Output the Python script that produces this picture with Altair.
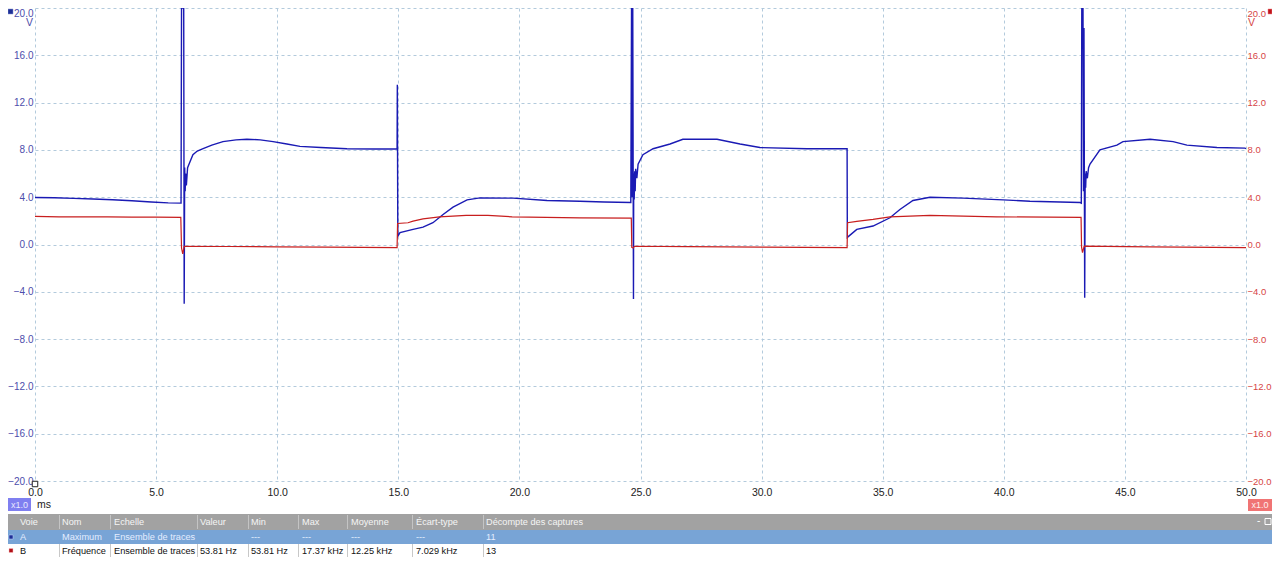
import altair as alt
import pandas as pd

# ---------------- data ----------------
# Channel A (blue), time in ms, volts
a_t = [0.0, 0.8, 1.6, 2.4, 3.2, 4.0, 4.8, 5.5, 6.03,
       6.05, 6.14, 6.16, 6.18, 6.2, 6.22, 6.25, 6.3, 6.4, 6.52, 6.7, 6.94, 7.3, 7.76, 8.3, 8.75, 9.3, 9.83, 10.4, 10.94, 11.8, 12.88, 14.0, 14.95,
       14.96, 14.98, 15.07, 15.61, 16.02, 16.43, 16.85, 17.26, 17.84, 18.37, 19.74, 21.14, 22.5, 23.5, 24.6,
       24.63, 24.66, 24.68, 24.71, 24.72, 24.74, 24.76, 24.78, 24.8, 24.85, 24.9, 25.1, 25.52, 26.22, 26.75, 28.16, 29.11, 29.93, 31.87, 33.53,
       33.54, 33.93, 34.6, 35.3, 35.71, 36.25, 36.95, 38.32, 39.97, 41.08, 43.15,
       43.2, 43.22, 43.27, 43.29, 43.31, 43.34, 43.36, 43.38, 43.4, 43.45, 43.5, 43.56, 43.97, 44.67, 44.92, 46.04, 46.99, 47.56, 48.8, 49.96, 50.0]
a_v = [3.98, 3.95, 3.9, 3.85, 3.78, 3.7, 3.6, 3.52, 3.5,
       20.0, 20.0, -5.0, 6.5, 4.5, 6.0, 5.0, 6.5, 7.0, 7.6, 7.9, 8.1, 8.4, 8.7, 8.85, 8.9, 8.85, 8.7, 8.5, 8.3, 8.2, 8.1, 8.08, 8.08,
       13.5, 0.7, 1.0, 1.28, 1.47, 1.84, 2.54, 3.16, 3.77, 3.94, 3.92, 3.72, 3.66, 3.6, 3.55,
       20.0, 4.0, 20.0, -4.6, 6.0, 3.8, 6.2, 4.5, 6.4, 5.6, 6.8, 7.6, 8.1, 8.5, 8.9, 8.9, 8.5, 8.2, 8.1, 8.1,
       0.6, 1.28, 1.56, 2.26, 2.96, 3.72, 4.0, 3.92, 3.77, 3.66, 3.55,
       3.5, 20.0, 20.0, 4.5, 18.3, -4.5, 6.0, 4.8, 6.2, 5.6, 6.5, 6.8, 8.0, 8.4, 8.7, 8.9, 8.7, 8.4, 8.2, 8.15, 8.1]

# Channel B (red)
b_t = [0.0, 1.0, 2.0, 3.0, 4.0, 5.0, 6.02, 6.05, 6.1, 6.16, 8.0, 10.0, 12.0, 14.95,
       14.97, 15.4, 15.61, 16.02, 16.7, 17.8, 18.7, 19.7, 22.5, 24.62,
       24.64, 24.7, 24.75, 27.0, 30.0, 33.53,
       33.55, 33.93, 34.6, 35.3, 36.95, 39.7, 43.19,
       43.21, 43.25, 43.32, 46.0, 50.0]
b_v = [2.38, 2.34, 2.34, 2.33, 2.32, 2.32, 2.3, -0.3, -0.8, -0.15, -0.17, -0.2, -0.23, -0.27,
       1.78, 1.84, 1.98, 2.17, 2.34, 2.46, 2.46, 2.34, 2.26, 2.23,
       -0.25, -0.3, -0.15, -0.18, -0.22, -0.27,
       1.84, 1.95, 2.12, 2.34, 2.46, 2.34, 2.29,
       -0.2, -0.69, -0.13, -0.2, -0.27]

trig_t = [0.0]
trig_v = [-20.0]

x_ticks = [0, 5, 10, 15, 20, 25, 30, 35, 40, 45, 50]
y_ticks = [-20, -16, -12, -8, -4, 0, 4, 8, 12, 16, 20]
x_unit = "ms"
y_unit = "V"
zoom_label = "x1.0"

table_header = ["Voie", "Nom", "Echelle", "Valeur", "Min", "Max", "Moyenne", "Écart-type", "Décompte des captures"]
row_a = ["A", "Maximum", "Ensemble de traces", "", "---", "---", "---", "---", "11"]
row_b = ["B", "Fréquence", "Ensemble de traces", "53.81 Hz", "53.81 Hz", "17.37 kHz", "12.25 kHz", "7.029 kHz", "13"]

# ---------------- styling / layout ----------------
FONT = "Liberation Sans"
GRID = "#b3cadc"
BLUE = "#1a1ab4"
RED = "#c81e1e"
LBLUE = "#4d4dab"
LRED = "#d64545"
W, H = 1211, 473
OX, OY = 35, 8   # page position of plot origin


def px(x):
    return x - OX


def py(y):
    return y - OY


cond_base = {"condition": {"test": "datum.value >= 20", "value": "top"}, "value": "middle"}

x_axis = alt.Axis(values=x_ticks, format=".1f", grid=True, gridDash=[3, 3], gridColor=GRID,
                  ticks=False, domain=False, labelColor="#222222", labelFont=FONT,
                  labelFontSize=10.5, labelPadding=6, labelFlush=False, title=None)
x_scale = alt.Scale(domain=[0, 50], nice=False, zero=False)
y_scale = alt.Scale(domain=[-20, 20], nice=False, zero=False)

df_a = pd.DataFrame({"t": a_t, "v": a_v})
df_b = pd.DataFrame({"t": b_t, "v": b_v})
df_trig = pd.DataFrame({"t": trig_t, "v": trig_v})

line_a = alt.Chart(df_a).mark_line(color=BLUE, strokeWidth=1.4, clip=True).encode(
    x=alt.X("t:Q", scale=x_scale, axis=x_axis),
    y=alt.Y("v:Q", scale=y_scale, axis=alt.Axis(
        orient="left", values=y_ticks, format=".1f", grid=True, gridDash=[3, 3], gridColor=GRID,
        ticks=False, domain=False, labelColor=LBLUE, labelFont=FONT, labelFontSize=10,
        labelPadding=2, labelFlush=False, labelBaseline=cond_base, title=None)),
)

line_b = alt.Chart(df_b).mark_line(color=RED, strokeWidth=1.2, clip=True).encode(
    x=alt.X("t:Q", scale=x_scale, axis=x_axis),
    y=alt.Y("v:Q", scale=y_scale, axis=alt.Axis(
        orient="right", values=y_ticks, format=".1f", grid=False,
        ticks=False, domain=False, labelColor=LRED, labelFont=FONT, labelFontSize=9.5,
        labelPadding=1, labelFlush=False, labelBaseline=cond_base, title=None)),
)

trig = alt.Chart(df_trig).mark_point(shape="square", filled=True, fill="white", stroke="#222222",
                                      strokeWidth=1, size=30, yOffset=3, opacity=1).encode(
    x=alt.X("t:Q", scale=x_scale, axis=x_axis),
    y=alt.Y("v:Q", scale=y_scale, axis=None),
)


def text_layer(s, x, y, color, size=9.2, align="left", weight="normal"):
    return alt.Chart(pd.DataFrame({"s": [s]})).mark_text(
        align=align, baseline="middle", font=FONT, fontSize=size, color=color, fontWeight=weight
    ).encode(x=alt.value(x), y=alt.value(y), text="s:N")


def box(x1, x2, y1, y2, fill, stroke=None, sw=0):
    kw = dict(fill=fill, strokeWidth=sw)
    if stroke:
        kw["stroke"] = stroke
    return alt.Chart(pd.DataFrame({"k": [0]})).mark_rect(**kw).encode(
        x=alt.value(x1), x2=alt.value(x2), y=alt.value(y1), y2=alt.value(y2))


def vrule(x, y1, y2, color):
    return alt.Chart(pd.DataFrame({"k": [0]})).mark_rule(color=color, strokeWidth=1).encode(
        x=alt.value(x), y=alt.value(y1), y2=alt.value(y2))


layers = [line_a, line_b, trig]

# unit labels and channel markers
layers.append(box(px(8), px(13), py(9), py(14), "#1e2f96", "#8090d0", 0.5))
layers.append(box(px(1268), px(1272), py(9), py(14), "#c0141c", "#f08080", 0.5))
layers.append(text_layer(y_unit, px(33), py(23), LBLUE, size=10.5, align="right"))
layers.append(text_layer(y_unit, px(1248), py(23), LRED, size=10.5, align="left"))

# zoom badges and x unit
layers.append(box(px(8), px(31), py(498), py(511), "#7f7ff0"))
layers.append(text_layer(zoom_label, px(19.5), py(504.5), "#e8e8ff", size=9, align="center"))
layers.append(text_layer(x_unit, px(37), py(505), "#222222", size=10.5, align="left"))
layers.append(box(px(1248), px(1272), py(499), py(511), "#f07474"))
layers.append(text_layer(zoom_label, px(1260), py(505), "#fff0f0", size=9, align="center"))

# measurement table
hdr_top, a_top, b_top, b_bot = 514, 530, 544, 557
layers.append(box(px(8), px(1272), py(hdr_top), py(a_top), "#a2a2a2"))
layers.append(box(px(8), px(1272), py(a_top), py(b_top), "#78a4d6"))
layers.append(box(px(8), px(1272), py(b_top), py(b_bot), "#ffffff"))

col_x = [20, 62, 114, 200, 251, 302, 351, 416, 486]
sep_x = [59, 110, 197, 248, 298, 347, 412, 483]
for s in sep_x:
    layers.append(vrule(px(s) + 0.5, py(hdr_top + 1), py(a_top - 1), "#c4c4c4"))
    layers.append(vrule(px(s) + 0.5, py(b_top), py(b_bot), "#c8c8c8"))

row_specs = [(table_header, "#f5f5f5", (hdr_top + a_top) / 2),
             (row_a, "#e4edff", (a_top + b_top) / 2),
             (row_b, "#111111", (b_top + b_bot) / 2)]
for cells, color, yy in row_specs:
    for i, s in enumerate(cells):
        if s == "":
            continue
        layers.append(text_layer(s, px(col_x[i]), py(yy), color))

# channel colour squares in the table
layers.append(box(px(9), px(13), py(535), py(539), "#1e2f96", "#c0d0ff", 0.5))
layers.append(box(px(9), px(13), py(548.5), py(552.5), "#b01018", "#ffc0c0", 0.5))

# window icons in header
layers.append(text_layer("-", px(1257), py(521), "#ffffff", size=10, align="left"))
layers.append(box(px(1265), px(1271), py(518.5), py(524.5), "#a2a2a2", "#ffffff", 1))

chart = alt.layer(*layers).resolve_scale(y="independent").properties(
    width=W, height=H,
    autosize=alt.AutoSizeParams(type="none"),
    padding={"left": 27, "top": 0, "right": 26, "bottom": 76},
    background="white",
).configure_view(stroke=None)

chart.save("out.html", embed_options={"renderer": "svg", "actions": False})
